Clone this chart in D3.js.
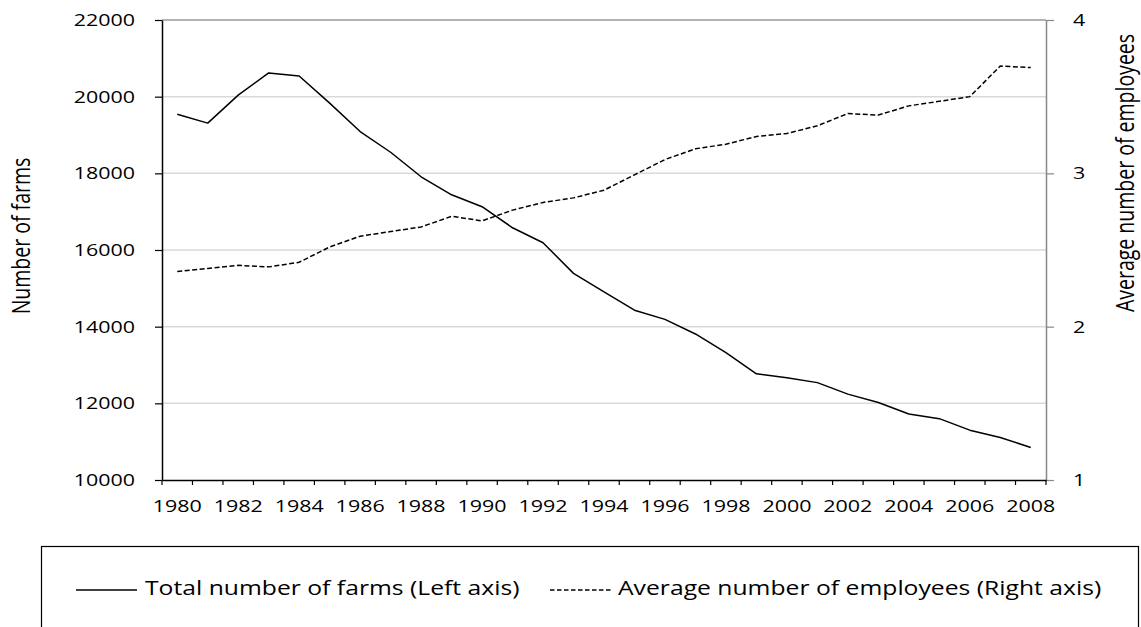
<!DOCTYPE html>
<html>
<head>
<meta charset="utf-8">
<script src="https://cdn.jsdelivr.net/npm/d3@7"></script>
<style>
  html, body { margin: 0; padding: 0; background: #fff; }
  svg { display: block; font-family: "Open Sans", sans-serif; }
</style>
</head>
<body>
<svg id="chart" width="1141" height="627"></svg>
<script>
// ---- data ----
const years = [1980,1981,1982,1983,1984,1985,1986,1987,1988,1989,1990,1991,1992,1993,1994,1995,1996,1997,1998,1999,2000,2001,2002,2003,2004,2005,2006,2007,2008];
const farms = [19540,19310,20040,20620,20540,19830,19090,18550,17910,17440,17130,16580,16190,15390,14910,14430,14190,13810,13320,12770,12670,12540,12240,12020,11720,11600,11300,11110,10850];
const employees = [2.36,2.38,2.40,2.39,2.42,2.52,2.59,2.62,2.65,2.72,2.69,2.76,2.81,2.84,2.89,2.99,3.09,3.16,3.19,3.24,3.26,3.31,3.39,3.38,3.44,3.47,3.50,3.70,3.69];
const leftTicks = [10000,12000,14000,16000,18000,20000,22000];
const rightTicks = [1,2,3,4];
const xLabelYears = [1980,1982,1984,1986,1988,1990,1992,1994,1996,1998,2000,2002,2004,2006,2008];
const leftTitle = "Number of farms";
const rightTitle = "Average number of employees";
const legendLabels = ["Total number of farms (Left axis)", "Average number of employees (Right axis)"];

// ---- layout ----
const L = 162, R = 1046, T = 20, B = 480;
const SX = 1.3;      // horizontal text stretch
const svg = d3.select("#chart");

const x = d3.scaleBand().domain(years).range([L, R]).padding(0);
const cx = d => x(d) + x.bandwidth() / 2;
const yL = d3.scaleLinear().domain([10000, 22000]).range([B, T]);
const yR = d3.scaleLinear().domain([1, 4]).range([B, T]);

// gridlines
svg.append("g").selectAll("line").data(leftTicks.filter(v => v > 10000)).join("line")
  .attr("x1", L).attr("x2", R)
  .attr("y1", d => yL(d)).attr("y2", d => yL(d))
  .attr("stroke", d => d === 22000 ? "#9a9a9a" : "#d9d9d9")
  .attr("stroke-width", 1.5);

// left axis
const gL = svg.append("g").attr("transform", `translate(${L},0)`)
  .call(d3.axisLeft(yL).tickValues(leftTicks).tickSize(7).tickSizeOuter(0).tickFormat(d3.format("d")));
gL.select(".domain").attr("stroke", "#000").attr("stroke-width", 1.5);
gL.selectAll(".tick line").attr("stroke", "#000").attr("stroke-width", 1.2);
gL.selectAll(".tick text")
  .attr("x", 0).attr("dy", null).attr("y", 0)
  .attr("transform", `translate(-27,5.5) scale(${SX},1)`)
  .attr("text-anchor", "end")
  .style("font-family", "Open Sans").style("font-size", "16.5px").attr("fill", "#000");

// right axis
const gR = svg.append("g").attr("transform", `translate(${R},0)`)
  .call(d3.axisRight(yR).tickValues(rightTicks).tickSize(8).tickSizeOuter(0).tickFormat(d3.format("d")));
gR.select(".domain").attr("stroke", "#888").attr("stroke-width", 1.5);
gR.selectAll(".tick line").attr("stroke", "#888").attr("stroke-width", 1.2);
gR.selectAll(".tick text")
  .attr("x", 0).attr("dy", null).attr("y", 0)
  .attr("transform", `translate(27,5.5) scale(${SX},1)`)
  .attr("text-anchor", "start")
  .style("font-family", "Open Sans").style("font-size", "16.5px").attr("fill", "#000");

// bottom axis: labels at category centres, tick marks at category boundaries
const gB = svg.append("g").attr("transform", `translate(0,${B})`)
  .call(d3.axisBottom(x).tickValues(xLabelYears).tickSize(0).tickSizeOuter(0));
gB.select(".domain").attr("stroke", "#000").attr("stroke-width", 1.5);
gB.selectAll(".tick text")
  .attr("y", 0).attr("dy", null)
  .attr("transform", `translate(0,32) scale(${SX},1)`)
  .style("font-family", "Open Sans").style("font-size", "16.5px").attr("fill", "#000");
gB.append("g").selectAll("line").data(years.map(d => x(d)).concat([R])).join("line")
  .attr("x1", d => d).attr("x2", d => d).attr("y1", 0).attr("y2", 5)
  .attr("stroke", "#000").attr("stroke-width", 1.2);

// series
const lineFarms = d3.line().x((d, i) => cx(years[i])).y(d => yL(d));
const lineEmp = d3.line().x((d, i) => cx(years[i])).y(d => yR(d));
svg.append("path").datum(farms).attr("d", lineFarms)
  .attr("fill", "none").attr("stroke", "#000").attr("stroke-width", 1.5).attr("stroke-linejoin", "round");
svg.append("path").datum(employees).attr("d", lineEmp)
  .attr("fill", "none").attr("stroke", "#000").attr("stroke-width", 1.5).attr("stroke-dasharray", "5,2.5");

// axis titles
svg.append("text").text(leftTitle)
  .attr("transform", `translate(30,236) scale(${SX},1) rotate(-90)`)
  .attr("text-anchor", "middle").style("font-size", "19.5px").attr("fill", "#000");
svg.append("text").text(rightTitle)
  .attr("transform", `translate(1134,173) scale(${SX},1) rotate(-90)`)
  .attr("text-anchor", "middle").style("font-size", "19.5px").attr("fill", "#000");

// legend
const lg = svg.append("g");
lg.append("rect").attr("x", 41.5).attr("y", 546.5).attr("width", 1097).attr("height", 120)
  .attr("fill", "none").attr("stroke", "#000").attr("stroke-width", 1.2);
const LSX = 1.235;
lg.append("line").attr("x1", 76).attr("x2", 137).attr("y1", 590).attr("y2", 590)
  .attr("stroke", "#000").attr("stroke-width", 1.5);
lg.append("text").text(legendLabels[0])
  .attr("transform", `translate(145,595) scale(${LSX},1)`)
  .style("font-size", "20px").attr("fill", "#000");
lg.append("line").attr("x1", 550).attr("x2", 612).attr("y1", 590).attr("y2", 590)
  .attr("stroke", "#000").attr("stroke-width", 1.5).attr("stroke-dasharray", "4.5,2.5");
lg.append("text").text(legendLabels[1])
  .attr("transform", `translate(618,595) scale(${LSX},1)`)
  .style("font-size", "20px").attr("fill", "#000");
</script>
</body>
</html>
